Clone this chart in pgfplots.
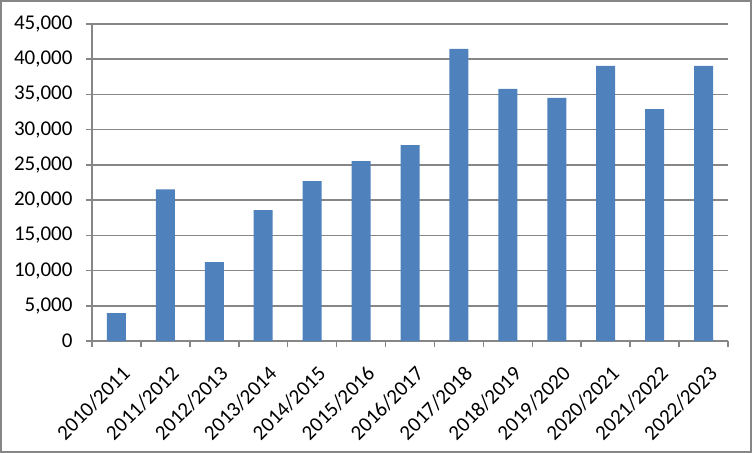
\documentclass[border=0pt]{standalone}
\usepackage{fontspec}
\setmainfont{Carlito}
\usepackage{pgfplots}
\pgfplotsset{compat=1.18}
\definecolor{barblue}{HTML}{4F81BD}
\definecolor{gridgray}{HTML}{868686}
\begin{document}
\begin{tikzpicture}
\useasboundingbox (-92bp,-112bp) rectangle (660bp,341bp);
\draw[gridgray, line width=1.8bp] (-91bp,-111bp) rectangle (659bp,340bp);
\begin{axis}[
  at={(0,0)}, anchor=south west,
  scale only axis, width=636bp, height=317bp,
  xmin=-0.5, xmax=12.5, ymin=0, ymax=45000,
  ybar, bar width=19bp,
  axis x line*=bottom, axis y line*=left,
  axis line style={gridgray, line width=1.6bp, -},
  ymajorgrids, major grid style={gridgray, line width=1.6bp},
  ytick={0,5000,...,45000},
  scaled y ticks=false,
  /pgf/number format/fixed,
  /pgf/number format/1000 sep={,},
  /pgf/number format/assume math mode=true,
  y tick label style={xshift=-10bp},
  tick align=outside,
  major tick length=6bp, minor tick length=6bp,
  tick style={gridgray, line width=1.6bp},
  xtick={0,...,12},
  major x tick style={draw=none},
  minor xtick={-0.5,0.5,...,12.5},
  xticklabels={2010/2011,2011/2012,2012/2013,2013/2014,2014/2015,2015/2016,2016/2017,2017/2018,2018/2019,2019/2020,2020/2021,2021/2022,2022/2023},
  tick label style={font=\fontsize{21bp}{25bp}\selectfont, text=black},
  x tick label style={rotate=45, anchor=north east, inner sep=1bp, xshift=-8.2bp, yshift=-14.5bp},
]
\addplot[fill=barblue, draw=none] coordinates {
(0,3950) (1,21520) (2,11190) (3,18580) (4,22700) (5,25540) (6,27820)
(7,41460) (8,35780) (9,34500) (10,39050) (11,32930) (12,39050)};
\end{axis}
\end{tikzpicture}
\end{document}
